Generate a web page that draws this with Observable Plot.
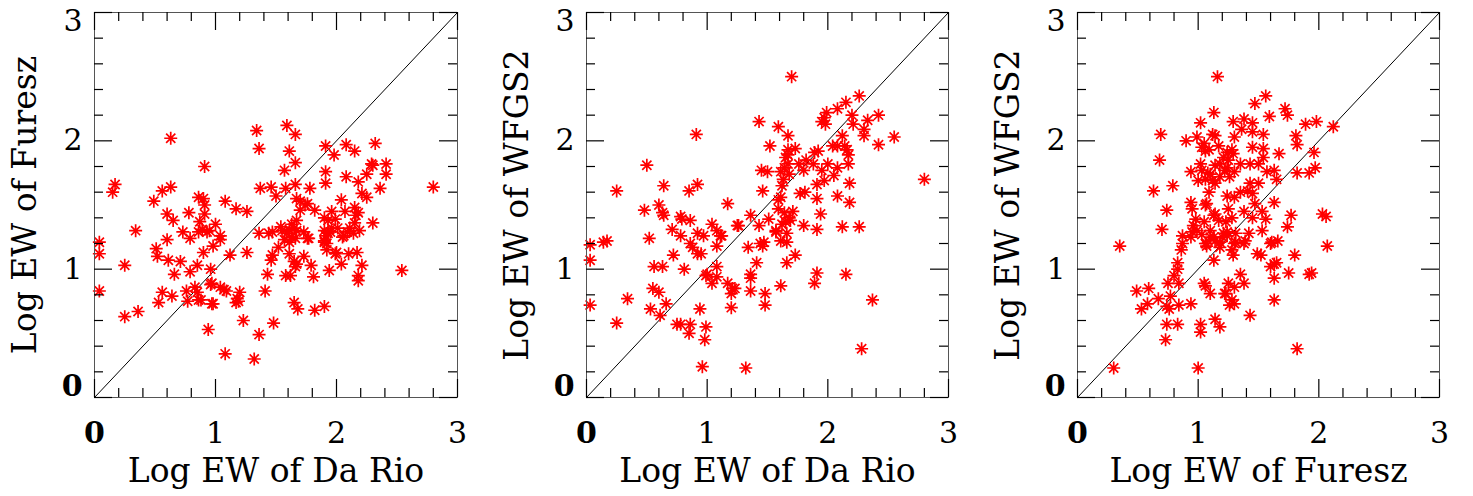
<!DOCTYPE html>
<html>
<head>
<meta charset="utf-8">
<script src="https://cdn.jsdelivr.net/npm/d3@7"></script>
<script src="https://cdn.jsdelivr.net/npm/@observablehq/plot@0.6"></script>
<style>
  html, body { margin: 0; padding: 0; background: #fff; }
  #row { display: flex; width: 1473px; height: 496px; }
  svg { font-family: "DejaVu Serif", serif; }
</style>
</head>
<body>
<div id="row"></div>
<script>
// ---- Data ----
// Panel 1: Log EW of Da Rio (x) vs Log EW of Furesz (y)
const p1x = [0.63,0.91,0.15,0.17,0.49,0.56,0.63,0.86,0.91,0.91,1.08,1.17,1.26,0.60,0.65,0.78,0.87,1.00,0.89,0.95,1.04,0.34,0.73,0.79,0.60,0.04,0.98,0.51,0.04,0.04,0.52,0.86,1.04,0.90,1.12,1.26,0.25,0.61,0.71,0.85,0.96,0.79,0.66,0.56,0.53,0.64,0.76,0.77,0.83,0.85,0.86,0.96,0.98,1.04,1.07,1.09,1.20,1.19,1.18,1.17,0.25,0.36,0.94,1.08,1.23,1.32,0.93,1.36,1.44,1.52,1.47,1.46,1.61,1.76,1.73,1.67,1.65,1.66,1.79,1.90,1.92,1.99,2.00,1.91,1.95,2.05,2.09,2.14,2.10,2.17,2.04,1.94,2.21,2.18,2.18,2.54,1.81,1.58,1.62,1.43,1.41,0.97,0.97,0.88,1.65,1.68,1.82,1.90,1.48,1.36,1.34,1.59,1.66,1.36,1.61,1.66,1.57,1.91,1.98,2.08,2.15,2.32,1.91,1.91,2.08,2.18,2.25,2.29,2.30,2.41,2.41,2.36,2.21,2.25,2.04,2.80,1.37,1.46,1.50,1.58,1.66,1.67,1.70,1.78,1.74,1.76,1.70,1.82,0.90,1.67,1.63,1.61,1.65,1.67,1.63,1.66,1.61,1.59,1.57,1.54,1.55,1.47,1.73,1.77,1.90,1.93,1.96,1.99,2.07,2.15,2.18,2.16,2.30,1.90,1.93,1.96,2.01,2.06,2.11,2.15,2.19,1.90,1.92];
const p1y = [2.02,1.80,1.60,1.66,1.53,1.61,1.64,1.56,1.50,1.43,1.53,1.47,1.45,1.43,1.38,1.44,1.37,1.35,1.31,1.30,1.26,1.30,1.29,1.24,1.23,1.21,1.18,1.16,1.12,0.83,1.10,1.29,1.23,1.13,1.11,1.13,1.03,1.07,1.06,1.03,1.00,0.98,0.96,0.82,0.74,0.79,0.83,0.75,0.86,0.82,0.76,0.88,0.73,0.86,0.84,0.83,0.82,0.75,0.77,0.74,0.63,0.67,0.53,0.34,0.60,0.30,1.29,1.28,1.28,1.17,1.11,1.07,1.12,1.24,1.10,1.04,1.06,1.02,1.03,1.21,1.15,1.12,1.13,1.26,1.29,1.25,1.29,1.28,1.12,1.13,1.04,0.99,1.03,0.95,0.91,0.99,0.94,0.95,0.95,0.96,0.83,0.89,0.73,0.76,0.74,0.69,0.68,0.71,0.58,0.49,2.08,2.12,2.05,1.94,1.92,1.83,1.77,1.96,1.89,1.97,1.92,1.98,1.76,1.67,1.72,1.68,1.74,1.82,1.81,1.82,1.74,1.63,1.59,1.56,1.54,1.64,1.63,1.64,1.57,1.63,1.66,1.55,1.53,1.63,1.50,1.51,1.46,1.46,1.55,1.38,1.35,1.31,1.32,1.30,1.25,1.24,1.21,1.28,1.23,1.33,1.30,1.29,1.29,1.24,1.40,1.38,1.45,1.39,1.45,1.48,1.44,1.42,1.36,1.30,1.28,1.32,1.32,1.26,1.32,1.36,1.30,1.22,1.20];

// Panel 2: Log EW of Da Rio (x) vs Log EW of WFGS2 (y)
const p2x = [0.91,0.50,0.25,0.64,0.85,0.92,0.60,0.48,0.63,0.64,0.78,0.79,0.86,0.71,0.78,0.52,0.92,0.97,1.04,1.08,1.12,1.17,1.25,0.03,0.14,0.17,0.86,0.88,1.08,0.03,0.03,0.92,0.95,0.72,0.56,0.63,0.81,1.00,1.04,1.08,1.08,1.17,1.21,1.20,0.55,0.60,0.34,0.66,0.53,0.61,0.25,0.75,0.78,0.86,0.85,0.94,0.99,0.98,0.96,1.20,1.11,1.34,1.44,1.47,1.46,1.57,1.61,1.66,1.66,1.73,1.66,1.41,1.36,1.36,1.36,1.23,0.99,1.48,1.48,1.61,1.91,1.89,2.15,2.37,2.28,1.32,1.70,1.43,1.59,1.67,1.52,1.67,1.73,1.65,1.67,1.45,1.50,1.61,1.64,1.67,1.63,1.62,1.68,1.76,1.80,1.82,1.89,1.92,1.88,2.00,2.05,2.08,1.95,1.91,1.97,2.17,2.17,2.16,2.14,2.04,2.08,2.12,1.95,1.98,1.97,1.99,2.08,2.15,2.26,2.20,2.21,2.33,2.30,2.30,2.42,2.55,2.42,2.80,2.18,2.18,2.08,1.91,1.94,1.77,1.81,1.46,1.59,1.61,1.59,1.64,1.68,1.71,1.65,1.69,1.62,1.36,1.51,1.43,1.26,1.80,1.91,2.12,2.26,1.57];
const p2y = [2.05,1.81,1.61,1.65,1.61,1.66,1.50,1.46,1.44,1.42,1.41,1.39,1.38,1.31,1.26,1.24,1.28,1.26,1.35,1.30,1.26,1.51,1.34,1.19,1.21,1.22,1.20,1.17,1.18,1.07,0.72,1.12,1.12,1.11,1.02,1.02,1.00,0.96,0.89,0.94,1.02,0.89,0.85,0.81,0.85,0.82,0.77,0.73,0.69,0.64,0.58,0.57,0.57,0.57,0.50,0.69,0.55,0.45,0.24,0.70,1.26,1.17,1.20,1.21,1.18,1.29,1.22,1.21,1.28,1.11,1.05,1.05,0.96,0.93,0.83,0.85,0.95,0.81,0.72,0.87,0.97,0.89,0.96,0.76,0.38,0.23,2.50,2.15,2.11,2.04,1.96,1.93,1.94,1.87,1.89,1.77,1.76,1.76,1.79,1.82,1.70,1.65,1.74,1.82,1.77,1.85,1.91,1.92,1.82,1.82,1.73,1.79,1.77,1.66,1.69,1.82,1.89,1.93,1.96,1.96,1.96,2.04,2.15,2.13,2.18,2.22,2.25,2.30,2.35,2.20,2.13,2.16,2.09,2.04,2.20,2.03,1.97,1.70,1.67,1.52,1.57,1.55,1.43,1.59,1.60,1.61,1.54,1.56,1.47,1.44,1.40,1.45,1.37,1.38,1.35,1.42,1.39,1.34,1.34,1.34,1.31,1.33,1.33,1.30];

// Panel 3: Log EW of Furesz (x) vs Log EW of WFGS2 (y)
const p3x = [1.16,1.13,1.02,0.69,0.90,0.99,1.12,1.14,1.03,1.09,1.17,0.68,1.02,0.94,1.00,1.14,1.10,1.14,1.18,1.21,1.24,1.25,0.79,0.63,0.94,0.95,1.07,1.09,0.74,0.70,0.98,0.96,0.99,1.05,1.10,1.13,1.17,1.23,0.87,0.94,0.87,0.35,1.07,1.14,1.18,1.24,1.47,1.56,1.72,1.74,1.29,1.38,1.45,1.36,1.59,1.89,1.98,2.12,1.30,1.45,1.54,1.81,1.82,1.05,1.06,1.45,1.28,1.29,1.54,1.54,1.67,1.96,1.18,1.24,1.30,1.35,1.43,1.50,1.57,1.63,1.65,1.82,1.92,1.97,1.03,1.06,1.08,1.12,1.22,1.26,1.43,1.50,1.41,1.45,1.35,1.30,1.24,1.63,1.47,1.53,1.45,1.56,1.38,1.06,1.14,1.25,1.28,1.77,1.74,2.03,2.06,1.53,1.42,1.39,1.31,1.21,1.13,1.30,1.61,1.66,2.07,0.95,1.03,1.10,1.07,1.18,1.24,0.86,1.13,0.83,0.83,0.80,0.84,0.75,1.05,1.06,1.10,1.23,1.25,0.59,0.49,0.67,0.77,0.58,0.53,0.74,0.76,0.84,0.94,1.26,0.74,0.83,1.02,1.02,1.14,1.18,0.73,0.30,1.00,1.43,1.82,1.63,1.28,1.30,1.22,1.30,1.35,1.38,1.60,1.63,1.65,1.63,1.75,1.92,1.94,1.80,1.49,1.52,1.60,1.29,1.28,1.31,1.38,1.06,1.20];
const p3y = [2.50,2.22,2.14,2.05,2.00,2.03,2.05,2.04,1.95,1.93,1.96,1.85,1.82,1.76,1.69,1.81,1.74,1.67,1.72,1.87,1.91,1.85,1.65,1.61,1.52,1.47,1.51,1.60,1.46,1.31,1.39,1.34,1.30,1.37,1.30,1.42,1.38,1.37,1.26,1.25,1.20,1.18,1.18,1.22,1.17,1.26,2.29,2.35,2.25,2.20,2.15,2.17,2.14,2.09,2.19,2.13,2.15,2.11,2.03,2.07,2.05,2.04,1.97,1.98,1.92,1.95,1.93,1.90,1.94,1.87,1.90,1.91,1.82,1.79,1.76,1.82,1.82,1.82,1.76,1.77,1.70,1.75,1.75,1.79,1.77,1.70,1.75,1.69,1.77,1.72,1.67,1.67,1.61,1.59,1.60,1.56,1.57,1.52,1.51,1.45,1.40,1.39,1.45,1.50,1.43,1.47,1.40,1.42,1.33,1.43,1.41,1.30,1.28,1.22,1.28,1.28,1.25,1.20,1.21,1.22,1.18,1.29,1.27,1.25,1.20,1.21,1.29,1.15,1.07,1.05,1.00,0.95,0.89,0.89,0.89,0.87,0.81,0.81,0.89,0.85,0.83,0.77,0.79,0.73,0.69,0.71,0.69,0.72,0.73,0.72,0.57,0.57,0.57,0.51,0.61,0.55,0.45,0.23,0.23,0.64,0.38,0.76,0.76,0.73,0.81,0.86,0.96,0.89,1.02,1.04,1.05,0.93,0.97,0.96,0.97,1.11,1.12,1.11,1.20,1.11,1.15,1.21,1.20,1.20,1.25];

// Axis ticks and labels
const majorTicks = [0, 1, 2, 3];
const minorTicks = [0.2, 0.4, 0.6, 0.8, 1.2, 1.4, 1.6, 1.8, 2.2, 2.4, 2.6, 2.8];
const midLabels = [1, 2];
const titles = {
  daRio: "Log EW of Da Rio",
  furesz: "Log EW of Furesz",
  wfgs2: "Log EW of WFGS2"
};

// IDL-like asterisk (plus + cross)
const asterisk = {
  draw(ctx, size) {
    const r = Math.sqrt(size / Math.PI);
    const d = r * Math.SQRT1_2;
    ctx.moveTo(0, -r); ctx.lineTo(0, r);
    ctx.moveTo(-r, 0); ctx.lineTo(r, 0);
    ctx.moveTo(-d, -d); ctx.lineTo(d, d);
    ctx.moveTo(-d, d); ctx.lineTo(d, -d);
  }
};

const W = 491, H = 496, MT = 12, MB = 99, MR = 34;
const MAJ = 18, MIN = 9;

function panel(xs, ys, xTitle, yTitle, ML) {
  const pw = W - ML - MR, ph = H - MT - MB;
  const pts = xs.map((x, i) => ({x, y: ys[i]}));
  const fs = 30, tfs = 33;
  return Plot.plot({
    width: W, height: H,
    marginLeft: ML, marginRight: MR, marginTop: MT, marginBottom: MB,
    x: {domain: [0, 3], axis: null},
    y: {domain: [0, 3], axis: null},
    style: {fontFamily: "DejaVu Serif, serif", background: "white", overflow: "visible"},
    marks: [
      // diagonal y = x
      Plot.line([0, 3], {x: d => d, y: d => d, stroke: "black", strokeWidth: 1}),
      // data
      Plot.dot(pts, {x: "x", y: "y", symbol: asterisk, r: 6.5, fill: "none", stroke: "#ff0000", strokeWidth: 1.7}),
      // frame
      Plot.frame({stroke: "#555", strokeWidth: 1}),
      // ticks: bottom / top
      Plot.tickX(majorTicks, {x: d => d, insetTop: ph - MAJ, stroke: "black", strokeWidth: 1.2}),
      Plot.tickX(majorTicks, {x: d => d, insetBottom: ph - MAJ, stroke: "black", strokeWidth: 1.2}),
      Plot.tickX(minorTicks, {x: d => d, insetTop: ph - MIN, stroke: "black", strokeWidth: 1.2}),
      Plot.tickX(minorTicks, {x: d => d, insetBottom: ph - MIN, stroke: "black", strokeWidth: 1.2}),
      // ticks: left / right
      Plot.tickY(majorTicks, {y: d => d, insetRight: pw - MAJ, stroke: "black", strokeWidth: 1.2}),
      Plot.tickY(majorTicks, {y: d => d, insetLeft: pw - MAJ, stroke: "black", strokeWidth: 1.2}),
      Plot.tickY(minorTicks, {y: d => d, insetRight: pw - MIN, stroke: "black", strokeWidth: 1.2}),
      Plot.tickY(minorTicks, {y: d => d, insetLeft: pw - MIN, stroke: "black", strokeWidth: 1.2}),
      // x tick labels
      Plot.text(majorTicks.filter(d => d > 0), {x: d => d, text: d => String(d), frameAnchor: "bottom", lineAnchor: "middle", dy: 36, fontSize: fs, fill: "black"}),
      Plot.text([0], {x: d => d, text: d => String(d), frameAnchor: "bottom", lineAnchor: "middle", dy: 36, fontSize: fs, fontWeight: "bold", fill: "black"}),
      // y tick labels
      Plot.text(midLabels, {y: d => d, text: d => String(d), frameAnchor: "left", lineAnchor: "middle", dx: -12, textAnchor: "end", fontSize: fs, fill: "black"}),
      Plot.text([3], {y: d => d, text: d => String(d), frameAnchor: "left", lineAnchor: "middle", dx: -12, dy: 9, textAnchor: "end", fontSize: fs, fill: "black"}),
      Plot.text([0], {y: d => d, text: d => String(d), frameAnchor: "left", lineAnchor: "middle", dx: -12, dy: -11, textAnchor: "end", fontSize: fs, fontWeight: "bold", fill: "black"}),
      // axis titles
      Plot.text([xTitle], {text: d => d, frameAnchor: "bottom", lineAnchor: "middle", textAnchor: "middle", dy: 74, fontSize: tfs, fill: "black"}),
      Plot.text([yTitle], {text: d => d, frameAnchor: "left", lineAnchor: "middle", textAnchor: "middle", dx: -69, rotate: -90, fontSize: tfs, fill: "black"})
    ]
  });
}

const row = document.getElementById("row");
row.append(panel(p1x, p1y, titles.daRio, titles.furesz, 94));
row.append(panel(p2x, p2y, titles.daRio, titles.wfgs2, 95));
row.append(panel(p3x, p3y, titles.furesz, titles.wfgs2, 95));
</script>
</body>
</html>
